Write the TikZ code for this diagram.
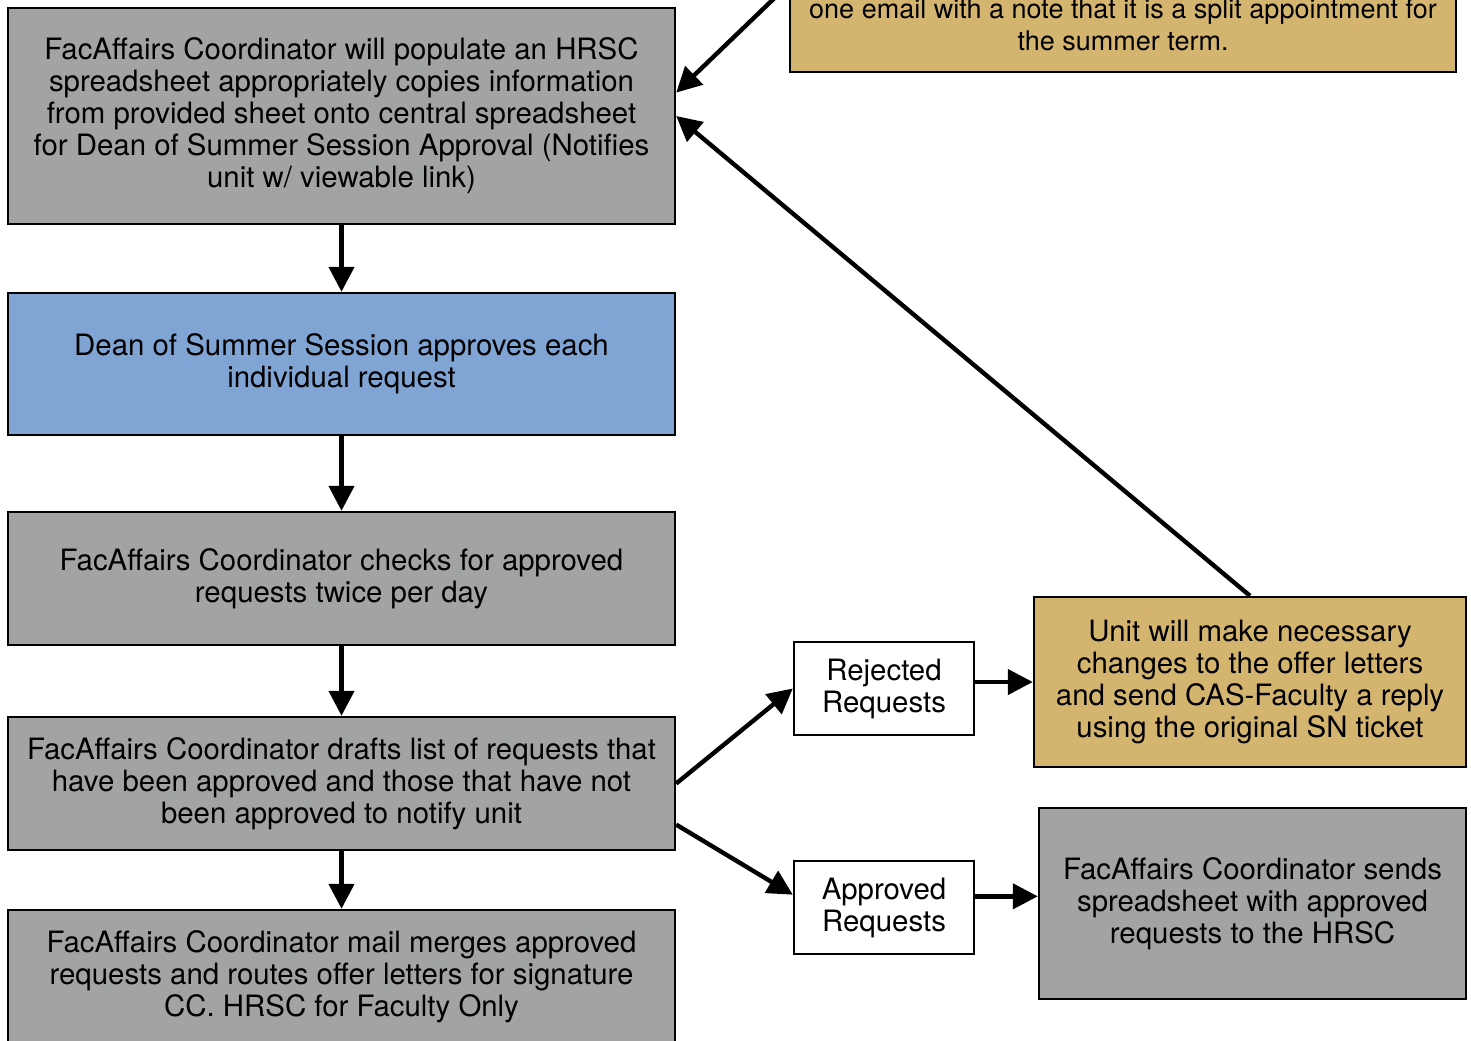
\documentclass[tikz,border=0pt]{standalone}
\usepackage{fontspec}
\setmainfont{TeX Gyre Heros}
\usetikzlibrary{arrows.meta}
\definecolor{boxgray}{RGB}{162,164,163}
\definecolor{deanblue}{RGB}{128,164,212}
\definecolor{unittan}{RGB}{212,181,112}
\begin{document}
\begin{tikzpicture}[x=0.5pt,y=-0.5pt,
		every node/.style={font=\fontsize{14.7}{16}\selectfont,align=center,inner sep=0pt},
		procbox/.style={draw,line width=1.2pt,fill=boxgray,minimum width=333.5pt},
		deanbox/.style={procbox,fill=deanblue},
		unitbox/.style={draw,line width=1.2pt,fill=unittan},
		reqbox/.style={draw,line width=1.2pt,fill=white,minimum width=90pt,minimum height=46.5pt},
		flow/.style={line width=2.2pt,-{Triangle[length=12.5pt,width=12.5pt]}}]
				\useasboundingbox (0,0) rectangle (1471,1040);
				\clip (0,0) rectangle (1471,1040);
				\draw[unitbox] (790,-120) rectangle (1456,72);
				\node[font=\fontsize{13.5}{16}\selectfont] (split) at (1123,25) {one email with a note that it is a split appointment for\\the summer term.};
				\node[procbox,minimum height=108pt] (populate) at (341.5,116) {FacAffairs Coordinator will populate an HRSC\\spreadsheet appropriately copies information\\from provided sheet onto central spreadsheet\\for Dean of Summer Session Approval (Notifies\\unit w/ viewable link)};
				\node[deanbox,minimum height=71pt] (dean) at (341.5,364) {Dean of Summer Session approves each\\individual request};
				\node[procbox,minimum height=66.5pt] (checks) at (341.5,578.5) {FacAffairs Coordinator checks for approved\\requests twice per day};
				\node[procbox,minimum height=66.5pt] (drafts) at (341.5,783.5) {FacAffairs Coordinator drafts list of requests that\\have been approved and those that have not\\been approved to notify unit};
				\node[procbox,minimum height=67pt] (merges) at (341.5,977) {FacAffairs Coordinator mail merges approved\\requests and routes offer letters for signature\\CC. HRSC for Faculty Only};
				\node[reqbox] (rejected) at (884,688.5) {Rejected\\Requests};
				\node[reqbox] (approved) at (884,907.5) {Approved\\Requests};
				\node[unitbox,minimum width=216pt,minimum height=85pt] (unit) at (1250,682) {Unit will make necessary\\changes to the offer letters\\and send CAS-Faculty a reply\\using the original SN ticket};
				\node[procbox,minimum width=213.5pt,minimum height=95.5pt] (sends) at (1252.5,903.5) {FacAffairs Coordinator sends\\spreadsheet with approved\\requests to the HRSC};
				\coordinate (above) at (814,-40);
				\draw[flow] (populate) -- (dean);
				\draw[flow] (dean) -- (checks);
				\draw[flow] (checks) -- (drafts);
				\draw[flow] (drafts) -- (merges);
				\draw[flow] (drafts.east) -- (rejected.west);
				\draw[flow] (drafts.-7) -- (approved.172);
				\draw[flow] (rejected.east |- unit.west) -- (unit.west);
				\draw[flow] (approved.7) -- (approved.7 -| sends.west);
				\draw[flow] (unit.north) -- (populate.east);
				\draw[flow] (above) -- (populate.4.5);
			\end{tikzpicture}
\end{document}
